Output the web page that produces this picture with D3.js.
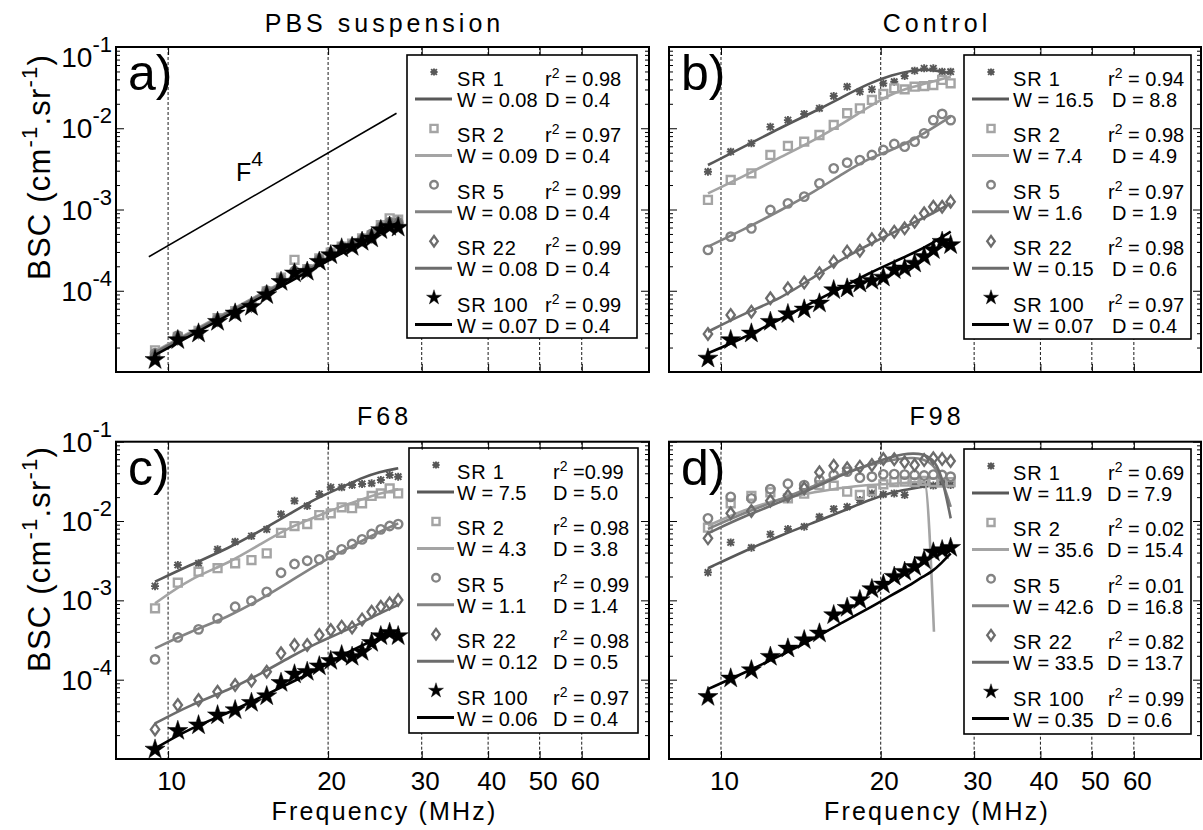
<!DOCTYPE html>
<html><head><meta charset="utf-8">
<script src="https://cdn.jsdelivr.net/npm/d3@7"></script>
<style>
body{margin:0;background:#fff}
svg{display:block}
text{font-family:"Liberation Sans",Arial,Helvetica,sans-serif;fill:#000}
</style>
</head><body>
<svg id="chart" width="1203" height="830"></svg>
<script>
// ---------------- DATA ----------------
const freq = [9.45, 10.43, 11.41, 12.39, 13.37, 14.35, 15.33, 16.31, 17.29, 18.27, 19.25, 20.23, 21.21, 22.19, 23.17, 24.15, 25.13, 26.11, 27.09];
const fitFreq = [9.45, 11, 13, 15, 17, 19, 21, 23, 25, 27.1];
const fitFreqD = [9.45, 11, 13, 15, 17, 19, 21, 22, 23, 24, 25, 26, 27.1];
const fitFreqD_SR2 = [9.45, 11, 13, 15, 17, 19, 21, 22, 23, 24, 24.2, 25.2];
const seriesNames = ["SR 1", "SR 2", "SR 5", "SR 22", "SR 100"];
const xTickValues = [10, 20, 30, 40, 50, 60];
const yTickExps = [-1, -2, -3, -4];
const f4Freq = [9.2, 26.9];
const f4Vals = [2.62e-4, 1.53e-2];

// Panel a : PBS suspension
const ptsA = [
  [1.6e-5, 2.6e-5, 3.1e-5, 4.4e-5, 5.5e-5, 6.6e-5, 9.3e-5, 1.35e-4, 1.7e-4, 1.8e-4, 2.4e-4, 2.9e-4, 3.4e-4, 3.7e-4, 4.2e-4, 4.6e-4, 5.8e-4, 6.5e-4, 6.6e-4],
  [1.85e-5, 2.7e-5, 3.2e-5, 4.6e-5, 5.6e-5, 6.6e-5, 9.8e-5, 1.45e-4, 2.4e-4, 1.85e-4, 2.5e-4, 2.95e-4, 3.5e-4, 3.8e-4, 4.4e-4, 4.8e-4, 6.4e-4, 7.8e-4, 7.5e-4],
  [1.7e-5, 2.8e-5, 3.1e-5, 4.5e-5, 5.5e-5, 6.5e-5, 1.0e-4, 1.4e-4, 1.75e-4, 1.85e-4, 2.45e-4, 2.9e-4, 3.5e-4, 3.7e-4, 4.3e-4, 5.0e-4, 6.1e-4, 7.0e-4, 7.0e-4],
  [1.6e-5, 2.6e-5, 3.1e-5, 4.4e-5, 5.5e-5, 6.6e-5, 9.5e-5, 1.35e-4, 1.75e-4, 1.8e-4, 2.4e-4, 2.85e-4, 3.4e-4, 3.7e-4, 4.3e-4, 4.7e-4, 6.0e-4, 6.7e-4, 6.8e-4],
  [1.41e-5, 2.48e-5, 2.99e-5, 4.16e-5, 5.27e-5, 6.37e-5, 8.87e-5, 1.29e-4, 1.64e-4, 1.72e-4, 2.28e-4, 2.75e-4, 3.33e-4, 3.48e-4, 4.02e-4, 4.42e-4, 5.60e-4, 6.14e-4, 6.0e-4]
];
const fitA = [
  [1.75e-5, 3.0e-5, 5.4e-5, 9.0e-5, 1.4e-4, 2.08e-4, 2.95e-4, 4.1e-4, 5.5e-4, 7.3e-4],
  [1.8e-5, 3.1e-5, 5.6e-5, 9.3e-5, 1.45e-4, 2.15e-4, 3.05e-4, 4.2e-4, 5.65e-4, 7.5e-4],
  [1.75e-5, 3.0e-5, 5.5e-5, 9.1e-5, 1.42e-4, 2.1e-4, 3.0e-4, 4.15e-4, 5.6e-4, 7.4e-4],
  [1.72e-5, 2.95e-5, 5.35e-5, 8.9e-5, 1.39e-4, 2.06e-4, 2.93e-4, 4.05e-4, 5.45e-4, 7.2e-4],
  [1.62e-5, 2.78e-5, 5.05e-5, 8.40e-5, 1.31e-4, 1.95e-4, 2.79e-4, 3.86e-4, 5.19e-4, 6.92e-4]
];
const r2A = [" = 0.98", " = 0.97", " = 0.99", " = 0.99", " = 0.99"];
const wA = ["W = 0.08", "W = 0.09", "W = 0.08", "W = 0.08", "W = 0.07"];
const dA = ["D = 0.4", "D = 0.4", "D = 0.4", "D = 0.4", "D = 0.4"];

// Panel b : Control
const ptsB = [
  [2.92e-3, 5.15e-3, 6.52e-3, 1.04e-2, 1.26e-2, 1.50e-2, 1.76e-2, 2.49e-2, 3.25e-2, 2.82e-2, 3.01e-2, 3.57e-2, 3.74e-2, 4.40e-2, 5.11e-2, 5.46e-2, 5.46e-2, 4.97e-2, 4.97e-2],
  [1.31e-3, 2.31e-3, 2.79e-3, 4.69e-3, 6.05e-3, 6.84e-3, 8.26e-3, 1.10e-2, 1.53e-2, 1.76e-2, 2.23e-2, 2.64e-2, 3.10e-2, 3.01e-2, 3.25e-2, 3.31e-2, 3.40e-2, 3.93e-2, 3.57e-2],
  [3.18e-4, 4.63e-4, 5.86e-4, 9.86e-4, 1.19e-3, 1.44e-3, 2.10e-3, 3.21e-3, 3.77e-3, 4.06e-3, 4.69e-3, 5.40e-3, 6.40e-3, 5.93e-3, 6.84e-3, 8.65e-3, 1.26e-2, 1.50e-2, 1.26e-2],
  [2.94e-5, 5.04e-5, 5.53e-5, 8.07e-5, 1.07e-4, 1.26e-4, 1.64e-4, 2.28e-4, 3.03e-4, 3.11e-4, 4.30e-4, 4.85e-4, 5.33e-4, 5.86e-4, 7.08e-4, 8.97e-4, 1.08e-3, 1.08e-3, 1.25e-3],
  [1.47e-5, 2.48e-5, 2.99e-5, 4.16e-5, 5.18e-5, 5.90e-5, 7.00e-5, 1.02e-4, 1.07e-4, 1.23e-4, 1.33e-4, 1.46e-4, 1.80e-4, 1.89e-4, 2.17e-4, 2.62e-4, 3.18e-4, 4.02e-4, 3.66e-4]
];
const fitB = [
  [3.53e-3, 5.82e-3, 1.03e-2, 1.60e-2, 2.45e-2, 3.57e-2, 4.52e-2, 5.21e-2, 5.31e-2, 4.74e-2],
  [1.58e-3, 2.54e-3, 4.47e-3, 7.16e-3, 1.15e-2, 1.84e-2, 2.69e-2, 3.25e-2, 3.74e-2, 4.32e-2],
  [3.49e-4, 5.60e-4, 9.86e-4, 1.66e-3, 2.79e-3, 4.27e-3, 5.40e-3, 7.16e-3, 9.98e-3, 1.39e-2],
  [3.13e-5, 5.18e-5, 8.07e-5, 1.5e-4, 2.5e-4, 3.7e-4, 5.1e-4, 6.8e-4, 8.9e-4, 1.19e-3],
  [1.70e-5, 2.60e-5, 4.57e-5, 7.35e-5, 1.12e-4, 1.64e-4, 2.22e-4, 2.88e-4, 3.84e-4, 5.33e-4]
];
const r2B = [" = 0.94", " = 0.98", " = 0.97", " = 0.98", " = 0.97"];
const wB = ["W = 16.5", "W = 7.4", "W = 1.6", "W = 0.15", "W = 0.07"];
const dB = ["D = 8.8", "D = 4.9", "D = 1.9", "D = 0.6", "D = 0.4"];

// Panel c : F68
const ptsC = [
  [1.51e-3, 2.79e-3, 2.93e-3, 4.40e-3, 5.48e-3, 6.47e-3, 7.85e-3, 1.22e-2, 1.80e-2, 1.55e-2, 2.19e-2, 2.66e-2, 2.66e-2, 2.84e-2, 2.93e-2, 2.99e-2, 3.29e-2, 3.80e-2, 3.62e-2],
  [7.93e-4, 1.67e-3, 2.30e-3, 2.54e-3, 2.93e-3, 3.22e-3, 3.92e-3, 7.11e-3, 8.65e-3, 9.16e-3, 1.19e-2, 1.25e-2, 1.49e-2, 1.45e-2, 1.67e-2, 2.07e-2, 2.23e-2, 2.58e-2, 2.23e-2],
  [1.80e-4, 3.41e-4, 4.31e-4, 5.93e-4, 8.30e-4, 9.88e-4, 1.28e-3, 2.23e-3, 2.87e-3, 3.16e-3, 3.29e-3, 3.72e-3, 4.40e-3, 5.13e-3, 5.87e-3, 6.86e-3, 7.85e-3, 8.65e-3, 9.16e-3],
  [2.36e-5, 4.79e-5, 5.53e-5, 7.03e-5, 8.55e-5, 9.68e-5, 1.26e-4, 2.15e-4, 2.73e-4, 2.73e-4, 3.65e-4, 4.22e-4, 4.65e-4, 4.56e-4, 5.75e-4, 7.18e-4, 8.30e-4, 9.16e-4, 1.01e-3],
  [1.32e-5, 2.27e-5, 2.67e-5, 3.57e-5, 4.14e-5, 5.12e-5, 6.21e-5, 9.14e-5, 1.17e-4, 1.26e-4, 1.48e-4, 1.73e-4, 2.04e-4, 1.95e-4, 2.25e-4, 2.92e-4, 3.55e-4, 3.90e-4, 3.55e-4]
];
const fitC = [
  [1.72e-3, 2.79e-3, 4.53e-3, 7.71e-3, 1.25e-2, 1.93e-2, 2.58e-2, 3.45e-2, 4.19e-2, 4.62e-2],
  [9.16e-4, 1.89e-3, 2.93e-3, 5.24e-3, 8.47e-3, 1.13e-2, 1.51e-2, 1.84e-2, 2.23e-2, 2.51e-2],
  [2.48e-4, 4.02e-4, 6.21e-4, 1.05e-3, 1.75e-3, 2.80e-3, 4.00e-3, 5.48e-3, 7.33e-3, 9.35e-3],
  [2.81e-5, 4.79e-5, 7.40e-5, 1.20e-4, 1.95e-4, 2.87e-4, 3.84e-4, 5.13e-4, 6.85e-4, 8.73e-4],
  [1.36e-5, 2.43e-5, 3.83e-5, 6.08e-5, 9.14e-5, 1.32e-4, 1.95e-4, 2.65e-4, 3.41e-4, 3.84e-4]
];
const r2C = [" =0.99", " = 0.98", " = 0.99", " = 0.98", " = 0.97"];
const wC = ["W = 7.5", "W = 4.3", "W = 1.1", "W = 0.12", "W = 0.06"];
const dC = ["D = 5.0", "D = 3.8", "D = 1.4", "D = 0.5", "D = 0.4"];

// Panel d : F98
const ptsD = [
  [2.25e-3, 5.38e-3, 4.61e-3, 6.79e-3, 7.93e-3, 8.47e-3, 1.13e-2, 1.42e-2, 1.51e-2, 1.84e-2, 2.23e-2, 2.17e-2, 2.23e-2, 2.13e-2, 2.84e-2, 2.9e-2, 2.8e-2, 3.1e-2, 2.85e-2],
  [8.24e-3, 1.67e-2, 2.08e-2, 2.30e-2, 1.93e-2, 2.21e-2, 2.84e-2, 2.79e-2, 2.34e-2, 2.13e-2, 2.39e-2, 2.90e-2, 3.1e-2, 3.15e-2, 3.1e-2, 3.2e-2, 3.1e-2, 3.05e-2, 3.1e-2],
  [1.08e-2, 2.02e-2, 1.93e-2, 2.53e-2, 2.95e-2, 2.84e-2, 3.29e-2, 3.80e-2, 4.19e-2, 3.52e-2, 3.62e-2, 3.88e-2, 3.9e-2, 3.85e-2, 3.8e-2, 3.75e-2, 3.85e-2, 3.8e-2, 3.62e-2],
  [6.05e-3, 1.25e-2, 1.34e-2, 1.80e-2, 2.08e-2, 2.58e-2, 4.11e-2, 4.98e-2, 4.62e-2, 4.84e-2, 5.08e-2, 6.05e-2, 6.0e-2, 5.50e-2, 5.08e-2, 5.87e-2, 6.18e-2, 6.05e-2, 5.71e-2],
  [6.08e-5, 1.04e-4, 1.32e-4, 1.95e-4, 2.48e-4, 3.16e-4, 3.84e-4, 6.53e-4, 8.07e-4, 1.01e-3, 1.39e-3, 1.59e-3, 1.99e-3, 2.30e-3, 2.65e-3, 3.22e-3, 4.03e-3, 4.31e-3, 4.61e-3]
];
const fitD = [
  [2.54e-3, 4.10e-3, 6.65e-3, 9.64e-3, 1.34e-2, 1.84e-2, 2.30e-2, 2.45e-2, 2.58e-2, 2.7e-2, 2.84e-2, 2.84e-2, 2.84e-2],
  [8.73e-3, 1.34e-2, 1.89e-2, 2.30e-2, 2.63e-2, 2.84e-2, 2.95e-2, 3.01e-2, 3.08e-2, 3.10e-2, 3.08e-2, 4.02e-4],
  [7.93e-3, 1.25e-2, 1.89e-2, 2.79e-2, 4.00e-2, 5.08e-2, 5.87e-2, 6.18e-2, 6.28e-2, 6.05e-2, 5.35e-2, 3.62e-2, 1.51e-2],
  [7.00e-3, 1.13e-2, 1.75e-2, 2.63e-2, 3.88e-2, 5.19e-2, 6.47e-2, 6.93e-2, 7.14e-2, 7.00e-2, 6.18e-2, 4.19e-2, 1.08e-2],
  [7.60e-5, 1.20e-4, 2.04e-4, 3.32e-4, 5.37e-4, 7.93e-4, 1.17e-3, 1.39e-3, 1.64e-3, 1.99e-3, 2.30e-3, 2.93e-3, 3.90e-3]
];
const r2D = [" = 0.69", " = 0.02", " = 0.01", " = 0.82", " = 0.99"];
const wD = ["W = 11.9", "W = 35.6", "W = 42.6", "W = 33.5", "W = 0.35"];
const dD = ["D = 7.9", "D = 15.4", "D = 16.8", "D = 13.7", "D = 0.6"];

// ---------------- STYLE / LAYOUT ----------------
const colors = ["#585858", "#a4a4a4", "#838383", "#6c6c6c", "#000000"];
const layout = [
  {title: "PBS suspension", label: "a)", left: 116, right: 649, top: 47, bottom: 372, titleY: 32,
   pts: ptsA, fits: fitA, fitF: [fitFreq, fitFreq, fitFreq, fitFreq, fitFreq], r2: r2A, w: wA, d: dA,
   leg: {x: 407, y: 55, w: 230, h: 283, t1: 457, tr: 545, td: 545},
   yLabels: true, xLabels: false, yTitleC: 167, topShift: 10},
  {title: "Control", label: "b)", left: 669, right: 1201, top: 47, bottom: 372, titleY: 32,
   pts: ptsB, fits: fitB, fitF: [fitFreq, fitFreq, fitFreq, fitFreq, fitFreq], r2: r2B, w: wB, d: dB,
   leg: {x: 964, y: 55, w: 227, h: 284, t1: 1013, tr: 1108, td: 1112},
   yLabels: false, xLabels: false},
  {title: "F68", label: "c)", left: 116, right: 649, top: 441.7, bottom: 759, titleY: 425,
   pts: ptsC, fits: fitC, fitF: [fitFreq, fitFreq, fitFreq, fitFreq, fitFreq], r2: r2C, w: wC, d: dC,
   leg: {x: 409, y: 448, w: 229, h: 285, t1: 457, tr: 553, td: 553},
   yLabels: true, xLabels: true, yTitleC: 559, topShift: 0},
  {title: "F98", label: "d)", left: 669, right: 1201, top: 441.7, bottom: 759, titleY: 425,
   pts: ptsD, fits: fitD, fitF: [fitFreqD, fitFreqD_SR2, fitFreqD, fitFreqD, fitFreqD], r2: r2D, w: wD, d: dD,
   leg: {x: 964, y: 449, w: 227, h: 285, t1: 1013, tr: 1108, td: 1107},
   yLabels: false, xLabels: true}
];

const svg = d3.select("#chart");

function drawMarker(g, i, cx, cy, s) {
  const c = colors[i];
  const t = `translate(${cx},${cy}) scale(${s})`;
  if (i === 0) {
    g.append("path").attr("d", "M-3.2,-3.2L3.2,3.2M-3.2,3.2L3.2,-3.2M0,-4L0,4M-4,0L4,0")
      .attr("transform", t).attr("fill", "none").attr("stroke", c).attr("stroke-width", 1.9 / s);
  } else if (i === 1) {
    g.append("path").attr("d", d3.symbol(d3.symbolSquare, 62)()).attr("transform", t)
      .attr("fill", "none").attr("stroke", c).attr("stroke-width", 2.4 / s);
  } else if (i === 2) {
    g.append("path").attr("d", d3.symbol(d3.symbolCircle, 56)()).attr("transform", t)
      .attr("fill", "none").attr("stroke", c).attr("stroke-width", 2.4 / s);
  } else if (i === 3) {
    g.append("path").attr("d", "M0,-5.8L4.2,0L0,5.8L-4.2,0Z").attr("transform", t)
      .attr("fill", "none").attr("stroke", c).attr("stroke-width", 2.3 / s);
  } else {
    g.append("path").attr("d", d3.symbol(d3.symbolStar, 125)()).attr("transform", t)
      .attr("fill", "#000").attr("stroke", "#000").attr("stroke-width", 0.5);
  }
}

layout.forEach(L => {
  const x = d3.scaleLog().domain([7.98, 80.3]).range([L.left, L.right]);
  const y = d3.scaleLog().domain([1e-5, 1e-1]).range([L.bottom, L.top]);
  const g = svg.append("g");

  // grid lines
  g.append("g").selectAll("line").data(xTickValues).join("line")
    .attr("x1", d => x(d)).attr("x2", d => x(d)).attr("y1", L.top).attr("y2", L.bottom)
    .attr("stroke", "#000").attr("stroke-width", 0.9).attr("stroke-dasharray", "3,2");

  // F^4 reference line (panel a)
  if (L.label === "a)") {
    const f4 = f4Freq.map((f, k) => [f, f4Vals[k]]);
    g.append("path").attr("d", d3.line().x(d => x(d[0])).y(d => y(d[1]))(f4))
      .attr("stroke", "#000").attr("stroke-width", 1.6).attr("fill", "none");
    const t = g.append("text").attr("x", 236).attr("y", 181).style("font-size", "25px");
    t.append("tspan").text("F");
    t.append("tspan").attr("dy", -15).style("font-size", "21px").text("4");
  }

  // data series
  const smooth = d3.line().x(d => x(d[0])).y(d => y(d[1])).curve(d3.curveBasis);
  const sharp = d3.line().x(d => x(d[0])).y(d => y(d[1])).curve(d3.curveMonotoneX);
  for (let i = 0; i < 5; i++) {
    const pg = g.append("g");
    L.pts[i].forEach((v, k) => drawMarker(pg, i, x(freq[k]), y(v), 1));
    const fd = L.fitF[i].map((f, k) => [f, L.fits[i][k]]);
    const gen = (L.label === "d)" && i === 1) ? sharp : smooth;
    g.append("path").attr("d", gen(fd)).attr("fill", "none")
      .attr("stroke", colors[i]).attr("stroke-width", 2.6);
  }

  // legend
  const lg = g.append("g");
  lg.append("rect").attr("x", L.leg.x).attr("y", L.leg.y).attr("width", L.leg.w).attr("height", L.leg.h)
    .attr("fill", "#fff").attr("stroke", "#000").attr("stroke-width", 1.6);
  for (let i = 0; i < 5; i++) {
    const ly = L.leg.y + 44 + i * 56.4;
    drawMarker(lg, i, L.leg.x + 27, ly - 27, i === 4 ? 0.75 : 0.9);
    lg.append("line").attr("x1", L.leg.x + 8).attr("x2", L.leg.x + 45).attr("y1", ly).attr("y2", ly)
      .attr("stroke", colors[i]).attr("stroke-width", 3);
    lg.append("text").attr("x", L.leg.t1).attr("y", ly - 13).style("font-size", "20px")
      .attr("letter-spacing", "0.8").text(seriesNames[i]);
    const rt = lg.append("text").attr("x", L.leg.tr).attr("y", ly - 13).style("font-size", "20px");
    rt.append("tspan").text("r");
    rt.append("tspan").attr("dy", -8).style("font-size", "14px").text("2");
    rt.append("tspan").attr("dy", 8).text(L.r2[i]);
    lg.append("text").attr("x", L.leg.t1).attr("y", ly + 8).style("font-size", "20px").text(L.w[i]);
    lg.append("text").attr("x", L.leg.td).attr("y", ly + 8).style("font-size", "20px").text(L.d[i]);
  }

  // y axis ticks (left and right, inward)
  const majors = [1e-5, 1e-4, 1e-3, 1e-2, 1e-1];
  const minors = [];
  [1e-5, 1e-4, 1e-3, 1e-2].forEach(b => { for (let m = 2; m <= 9; m++) minors.push(b * m); });
  const axL = g.append("g").attr("transform", `translate(${L.left},0)`)
    .call(d3.axisLeft(y).tickValues(majors).tickSize(-8).tickFormat(""));
  const axLm = g.append("g").attr("transform", `translate(${L.left},0)`)
    .call(d3.axisLeft(y).tickValues(minors).tickSize(-4).tickFormat(""));
  const axR = g.append("g").attr("transform", `translate(${L.right},0)`)
    .call(d3.axisRight(y).tickValues(majors).tickSize(-8).tickFormat(""));
  const axRm = g.append("g").attr("transform", `translate(${L.right},0)`)
    .call(d3.axisRight(y).tickValues(minors).tickSize(-4).tickFormat(""));
  // x axis ticks
  const axB = g.append("g").attr("transform", `translate(0,${L.bottom})`)
    .call(d3.axisBottom(x).tickValues(xTickValues).tickSize(-8).tickPadding(13)
      .tickFormat(L.xLabels ? d3.format("d") : ""));
  const axT = g.append("g").attr("transform", `translate(0,${L.top})`)
    .call(d3.axisTop(x).tickValues(xTickValues).tickSize(-8).tickFormat(""));
  [axL, axLm, axR, axRm, axB, axT].forEach(a => {
    a.select(".domain").remove();
    a.selectAll(".tick line").attr("stroke", "#000").attr("stroke-width", 1);
  });
  axB.selectAll(".tick text").style("font-size", "26px").attr("fill", "#000")
    .attr("font-family", null).attr("dx", 3);

  // y tick labels
  if (L.yLabels) {
    yTickExps.forEach(e => {
      const yy = y(Math.pow(10, e)) + 10 + (e === -1 ? L.topShift : 0);
      const t = g.append("text").attr("x", 112).attr("y", yy).attr("text-anchor", "end").style("font-size", "28px");
      t.append("tspan").text("10");
      t.append("tspan").attr("dy", -15).style("font-size", "22px").text(String(e));
    });
    // y title
    const yt = g.append("text").attr("transform", `translate(50,${L.yTitleC}) rotate(-90)`)
      .attr("text-anchor", "middle").style("font-size", "31px").attr("letter-spacing", "1.2");
    yt.append("tspan").text("BSC (cm");
    yt.append("tspan").attr("dy", -13).style("font-size", "22px").text("-1");
    yt.append("tspan").attr("dy", 13).text(".sr");
    yt.append("tspan").attr("dy", -13).style("font-size", "22px").text("-1");
    yt.append("tspan").attr("dy", 13).text(")");
  }

  // x title
  if (L.xLabels) {
    g.append("text").attr("x", (L.left + L.right) / 2 + 2).attr("y", 820).attr("text-anchor", "middle")
      .style("font-size", "25px").attr("letter-spacing", "2.2").text("Frequency (MHz)");
  }

  // panel border
  g.append("rect").attr("x", L.left).attr("y", L.top).attr("width", L.right - L.left).attr("height", L.bottom - L.top)
    .attr("fill", "none").attr("stroke", "#000").attr("stroke-width", 2);

  // panel title and label
  g.append("text").attr("x", (L.left + L.right) / 2 + 2).attr("y", L.titleY).attr("text-anchor", "middle")
    .style("font-size", "25px").attr("letter-spacing", "4").text(L.title);
  g.append("text").attr("x", L.left + 12).attr("y", L.top + 43).style("font-size", "50px").text(L.label);
});
</script>
</body></html>
